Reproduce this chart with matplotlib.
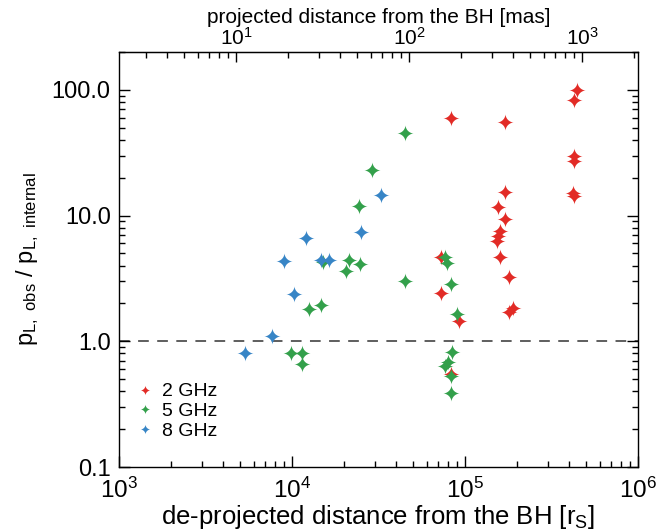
import numpy as np
import matplotlib
matplotlib.use("Agg")
import matplotlib.pyplot as plt
from matplotlib.path import Path
from matplotlib.ticker import FuncFormatter, LogLocator, NullFormatter, FixedLocator

plt.rcParams['font.family'] = ['Liberation Sans', 'DejaVu Sans']
plt.rcParams['mathtext.default'] = 'regular'

# de-projected distance [r_s] and p_L,obs / p_L,internal
x_2ghz = [442000, 427000, 83000, 170000, 427000, 427000, 170000, 423000, 427000,
          156000, 170000, 159000, 155000, 154000, 159000, 72500, 179000, 72900,
          189000, 180000, 92000, 82600]
y_2ghz = [99.5, 83.3, 59.5, 55.4, 29.6, 27.0, 15.3, 15.2, 14.3,
          11.6, 9.42, 7.60, 6.93, 6.25, 4.69, 4.67, 3.27, 2.43,
          1.85, 1.71, 1.45, 0.547]

x_5ghz = [45000, 29000, 24300, 15200, 21400, 24700, 20400, 45000, 12500, 14800,
          9870, 11500, 11400, 76600, 78700, 82600, 89500, 83800, 80100, 76400,
          82600, 82600]
y_5ghz = [45.0, 23.2, 11.9, 4.26, 4.45, 4.14, 3.61, 3.01, 1.79, 1.95,
          0.80, 0.80, 0.66, 4.64, 4.21, 2.83, 1.66, 0.815, 0.685, 0.634,
          0.527, 0.385]

x_8ghz = [5340, 7640, 10300, 8990, 12100, 14800, 16400, 25000, 32600]
y_8ghz = [0.81, 1.11, 2.39, 4.33, 6.65, 4.45, 4.45, 7.43, 14.5]

mas_ticks = [10, 100, 1000]
rs_per_mas = 475.0

# four-pointed star with concave sides
t = np.linspace(0, 2 * np.pi, 121)
p = 3.4
sx = np.sign(np.cos(t)) * np.abs(np.cos(t)) ** p
sy = np.sign(np.sin(t)) * np.abs(np.sin(t)) ** p
star = Path(np.column_stack([sx, sy]), closed=True)

fig = plt.figure(figsize=(6.71, 5.31), dpi=100)
ax = fig.add_axes([0.1773, 0.1205, 0.7735, 0.7816])

ax.axhline(1.0, color='#333333', lw=1.1, dashes=(7, 5.5), zorder=1)

ax.plot(x_2ghz, y_2ghz, ls='none', marker=star, ms=12, color='#e22b26', mec='none', label='2 GHz')
ax.plot(x_5ghz, y_5ghz, ls='none', marker=star, ms=12, color='#33a04b', mec='none', label='5 GHz')
ax.plot(x_8ghz, y_8ghz, ls='none', marker=star, ms=12, color='#3785c6', mec='none', label='8 GHz')

ax.set_xscale('log')
ax.set_yscale('log')
ax.set_xlim(1e3, 1e6)
ax.set_ylim(0.1, 200)

ax.yaxis.set_major_locator(LogLocator(base=10, numticks=10))
ax.yaxis.set_major_formatter(FuncFormatter(lambda v, pos: f"{v:.1f}"))
ax.yaxis.set_minor_formatter(NullFormatter())

ax.tick_params(which='both', direction='in', top=False, right=True, width=1.0)
ax.tick_params(which='major', length=7.7, pad=6)
ax.tick_params(which='minor', length=4)
ax.tick_params(axis='y', which='major', labelsize=17)
ax.tick_params(axis='x', which='major', labelsize=17.5, pad=8)
for s in ax.spines.values():
    s.set_linewidth(1.0)

ax.set_xlabel('de-projected distance from the BH [r$_S$]', fontsize=18.5, labelpad=0)
ax.set_ylabel('p$_{L,\\ obs}$ / p$_{L,\\ internal}$', fontsize=17, labelpad=8)

sec = ax.secondary_xaxis('top', functions=(lambda v: v / rs_per_mas, lambda v: v * rs_per_mas))
sec.xaxis.set_major_locator(FixedLocator(mas_ticks))
sec.tick_params(which='both', direction='in', width=1.0)
sec.tick_params(which='major', length=7, labelsize=15, pad=2)
sec.tick_params(which='minor', length=4)
sec.set_xlabel('projected distance from the BH [mas]', fontsize=15, labelpad=3)

ax.legend(loc='upper left', bbox_to_anchor=(0.0, 0.25), frameon=False, fontsize=14,
          markerscale=0.6, handlelength=0.7, handletextpad=0.5, labelspacing=0.12,
          borderaxespad=0.6)

fig.savefig('out.png', dpi=100)
